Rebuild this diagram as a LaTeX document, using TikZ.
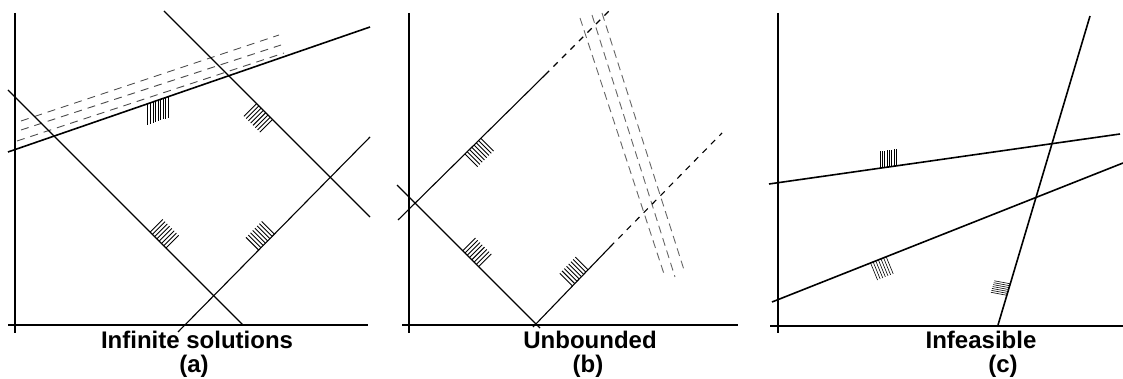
\documentclass[tikz,border=0pt]{standalone}
\usepackage{fontspec}
\setmainfont{Liberation Sans}
\usetikzlibrary{calc}
\tikzset{
  axisline/.style={line width=1.8pt},
  conline/.style={line width=1.1pt},
  heavyline/.style={line width=1.6pt},
  hatchline/.style={line width=0.9pt},
  finehatch/.style={line width=0.6pt},
  ghostline/.style={black!70, line width=0.9pt, dash pattern=on 8pt off 6pt},
  ghostlineb/.style={black!60, line width=0.9pt, dash pattern=on 8pt off 5pt},
  extline/.style={line width=1.1pt, dash pattern=on 6pt off 6pt},
  lbl/.style={font=\bfseries\fontsize{24}{28}\selectfont, inner sep=0pt, anchor=base}
}
\newcommand\hatchmarks[7]{% #1 style, #2 line start, #3 line end, #4 first distance, #5 count, #6 spacing, #7 stroke vector
  \foreach \k in {1,...,#5}{%
    \draw[#1] ($(#2)!{#4pt+(\k-1)*#6pt}!(#3)$) -- ++#7;
  }%
}
\begin{document}
\begin{tikzpicture}[x=1pt,y=-1pt]
\useasboundingbox (0,0) rectangle (1123,379);

% ---------------- panel (a)
\coordinate (ay0) at (15,13);  \coordinate (ay1) at (15,333);
\coordinate (ax0) at (8,325);  \coordinate (ax1) at (368,325);
\draw[axisline] (ay0) -- (ay1);
\draw[axisline] (ax0) -- (ax1);
\coordinate (g1a) at (21,121); \coordinate (g1b) at (279,35);
\coordinate (g2a) at (21,130); \coordinate (g2b) at (281,45);
\coordinate (g3a) at (17,141); \coordinate (g3b) at (284,53);
\draw[ghostline] (g1a) -- (g1b);
\draw[ghostline] (g2a) -- (g2b);
\draw[ghostline] (g3a) -- (g3b);
\coordinate (s0) at (8,152);   \coordinate (s1) at (370,27);
\draw[heavyline] (s0) -- (s1);
\coordinate (p0) at (8,90);    \coordinate (p1) at (243,325);
\coordinate (q0) at (164,11);  \coordinate (q1) at (370,217);
\coordinate (r0) at (178,332); \coordinate (r1) at (370,137);
\draw[conline] (p0) -- (p1);
\draw[conline] (q0) -- (q1);
\draw[conline] (r0) -- (r1);
\hatchmarks{hatchline}{s0}{s1}{148}{9}{2.7}{(0,21)}
\hatchmarks{hatchline}{q0}{q1}{131}{8}{3.2}{(-12.7,12.7)}
\hatchmarks{hatchline}{p0}{p1}{201}{8}{3.2}{(12.7,-12.7)}
\hatchmarks{hatchline}{r0}{r1}{115}{8}{3.2}{(-12.7,-12.7)}
\node[lbl] (la1) at (197,348) {Infinite solutions};
\node[lbl] (la2) at (194,372) {(a)};

% ---------------- panel (b)
\coordinate (by0) at (409,13);  \coordinate (by1) at (409,333);
\coordinate (bx0) at (402,325); \coordinate (bx1) at (738,325);
\draw[axisline] (by0) -- (by1);
\draw[axisline] (bx0) -- (bx1);
\coordinate (h1a) at (580,18); \coordinate (h1b) at (665,277);
\coordinate (h2a) at (592,15); \coordinate (h2b) at (675,277);
\coordinate (h3a) at (602,13); \coordinate (h3b) at (685,273);
\draw[ghostlineb] (h1a) -- (h1b);
\draw[ghostlineb] (h2a) -- (h2b);
\draw[ghostlineb] (h3a) -- (h3b);
\coordinate (u0) at (398,220); \coordinate (u1) at (545,75); \coordinate (u2) at (610,10);
\coordinate (d0) at (397,185); \coordinate (d1) at (540,328);
\coordinate (w0) at (533,327); \coordinate (w1) at (610,247); \coordinate (w2) at (722,133);
\draw[conline] (u0) -- (u1);
\draw[extline] (u1) -- (u2);
\draw[conline] (d0) -- (d1);
\draw[conline] (w0) -- (w1);
\draw[extline] (w1) -- (w2);
\hatchmarks{hatchline}{u0}{u1}{94}{8}{3.2}{(12.7,12.7)}
\hatchmarks{hatchline}{d0}{d1}{93}{8}{3.2}{(12.7,-12.7)}
\hatchmarks{hatchline}{w0}{w1}{57}{8}{3.2}{(-12.7,-12.7)}
\node[lbl] (lb1) at (590,348) {Unbounded};
\node[lbl] (lb2) at (588,372) {(b)};

% ---------------- panel (c)
\coordinate (cy0) at (778,13);  \coordinate (cy1) at (778,333);
\coordinate (cx0) at (770,326); \coordinate (cx1) at (1123,326);
\draw[axisline] (cy0) -- (cy1);
\draw[axisline] (cx0) -- (cx1);
\coordinate (A0) at (769,184);  \coordinate (A1) at (1120,134);
\coordinate (B0) at (772,302);  \coordinate (B1) at (1123,163);
\coordinate (C0) at (998,325);  \coordinate (C1) at (1090,16);
\draw[heavyline] (A0) -- (A1);
\draw[heavyline] (B0) -- (B1);
\draw[heavyline] (C0) -- (C1);
\hatchmarks{finehatch}{A0}{A1}{112}{8}{2.4}{(0,-17)}
\hatchmarks{finehatch}{B0}{B1}{106}{7}{2.8}{(7,17)}
\hatchmarks{finehatch}{C0}{C1}{31}{7}{2}{(-16,-3)}
\node[lbl] (lc1) at (981,348) {Infeasible};
\node[lbl] (lc2) at (1003,372) {(c)};
\end{tikzpicture}
\end{document}
